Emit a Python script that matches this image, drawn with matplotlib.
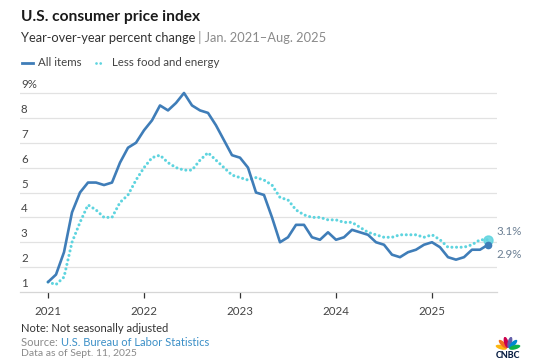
import matplotlib.pyplot as plt
from matplotlib.lines import Line2D
from matplotlib.patches import Ellipse
import numpy as np

plt.rcParams['font.family'] = ['Lato', 'DejaVu Sans']

# monthly year-over-year % change, Jan 2021 - Aug 2025
all_items = [1.4, 1.7, 2.6, 4.2, 5.0, 5.4, 5.4, 5.3, 5.4, 6.2, 6.8, 7.0,
             7.5, 7.9, 8.5, 8.3, 8.6, 9.0, 8.5, 8.3, 8.2, 7.7, 7.1, 6.5,
             6.4, 6.0, 5.0, 4.9, 4.0, 3.0, 3.2, 3.7, 3.7, 3.2, 3.1, 3.4,
             3.1, 3.2, 3.5, 3.4, 3.3, 3.0, 2.9, 2.5, 2.4, 2.6, 2.7, 2.9,
             3.0, 2.8, 2.4, 2.3, 2.4, 2.7, 2.7, 2.9]
core = [1.4, 1.3, 1.6, 3.0, 3.8, 4.5, 4.3, 4.0, 4.0, 4.6, 4.9, 5.5,
        6.0, 6.4, 6.5, 6.2, 6.0, 5.9, 5.9, 6.3, 6.6, 6.3, 6.0, 5.7,
        5.6, 5.5, 5.6, 5.5, 5.3, 4.8, 4.7, 4.3, 4.1, 4.0, 4.0, 3.9,
        3.9, 3.8, 3.8, 3.6, 3.4, 3.3, 3.2, 3.2, 3.3, 3.3, 3.3, 3.2,
        3.3, 3.1, 2.8, 2.8, 2.8, 2.9, 3.1, 3.1]
years = ['2021', '2022', '2023', '2024', '2025']
y_grid = [2, 3, 4, 5, 6, 7, 8, 9]
y_labels = ['1', '2', '3', '4', '5', '6', '7', '8', '9%']

BLUE = '#3f7db8'
CYAN = '#5ed4df'
W, H = 537, 360


def px(x, y):
    return x / W, 1 - y / H


fig = plt.figure(figsize=(W / 100, H / 100), dpi=100)
# axes: left px 20, right px 497, bottom px 292 (y=1), 9 at px 93
ppu = (292 - 93) / 8
top_val = 1 + (292 - 84) / ppu
ax = fig.add_axes([20 / W, 1 - 292 / H, 477 / W, (292 - 84) / H])
ax.set_xlim(-28 / 8, (497 - 48) / 8)
ax.set_ylim(1, top_val)

months = np.arange(len(all_items))
for v in y_grid:
    ax.axhline(v, color='#e2e2e2', lw=0.9, zorder=0)
for i, lab in enumerate(y_labels):
    ax.text(0.002, i + 1 + 0.12, lab, transform=ax.get_yaxis_transform(),
            ha='left', va='bottom', fontsize=8.3, color='#444444')

ax.plot(months[:len(core)], core, color=CYAN, lw=2.2,
        linestyle=(0, (0.01, 1.5)), dash_capstyle='round', zorder=3)
ax.plot(months, all_items, color=BLUE, lw=1.9, solid_joinstyle='round',
        solid_capstyle='round', zorder=4)
ax.plot(months[-1], core[-1], 'o', color=CYAN, ms=6.5, alpha=0.85, zorder=5)
ax.plot(months[-1], all_items[-1], 'o', color=BLUE, ms=4.5, zorder=6)
ax.annotate(f'{core[-1]}%', (months[-1], core[-1]), xytext=(6, 2),
            textcoords='offset points', va='bottom', ha='left',
            fontsize=8.3, color='#6b7f93')
ax.annotate(f'{all_items[-1]}%', (months[-1], all_items[-1]), xytext=(6, -3),
            textcoords='offset points', va='top', ha='left',
            fontsize=8.3, color='#6b7f93')

for s in ['top', 'right', 'left']:
    ax.spines[s].set_visible(False)
ax.spines['bottom'].set_color('#d6d6d6')
ax.spines['bottom'].set_linewidth(0.9)
ax.set_yticks([])
ax.set_xticks(np.arange(len(years)) * 12)
ax.set_xticklabels(years)
ax.tick_params(axis='x', length=4, width=0.9, color='#333333', pad=6,
               labelsize=8.3, labelcolor='#444444')

# header
fig.text(*px(21, 17), 'U.S. consumer price index', fontsize=11.2,
         fontweight='bold', color='#1a1a1a', va='center', ha='left')
t1 = fig.text(*px(21, 38), 'Year-over-year percent change', fontsize=9.3,
              color='#333333', va='center', ha='left')
plt.annotate(' | Jan. 2021\u2013Aug. 2025', xy=(1, 0), xycoords=t1,
             va='bottom', ha='left', fontsize=9.3, color='#8a8a8a')

# legend
ly = 1 - 63 / H
fig.add_artist(Line2D([22 / W, 33 / W], [ly, ly], color=BLUE, lw=2,
                      transform=fig.transFigure))
fig.text(38 / W, ly, 'All items', fontsize=8.3, color='#444444',
         va='center', ha='left')
fig.add_artist(Line2D([96 / W, 101 / W], [ly, ly], color=CYAN, lw=2,
                      linestyle=(0, (0.01, 1.5)), dash_capstyle='round',
                      transform=fig.transFigure))
fig.text(112 / W, ly, 'Less food and energy', fontsize=8.3, color='#444444',
         va='center', ha='left')

# footer
fig.text(*px(21, 329), 'Note: Not seasonally adjusted', fontsize=8,
         color='#333333', va='center', ha='left')
s1 = fig.text(*px(21, 342), 'Source: ', fontsize=8, color='#8a8a8a',
              va='center', ha='left')
plt.annotate('U.S. Bureau of Labor Statistics', xy=(1, 0), xycoords=s1,
             va='bottom', ha='left', fontsize=8, color='#3b8fc7')
fig.text(*px(21, 354), 'Data as of Sept. 11, 2025', fontsize=7.5,
         color='#8a8a8a', va='center', ha='left')

# CNBC peacock logo
lax = fig.add_axes([494 / W, 1 - 351 / H, 28 / W, 14 / H])
lax.set_xlim(-1.1, 1.1)
lax.set_ylim(-0.1, 1.0)
lax.axis('off')
feather_colors = ['#0db14b', '#0089d0', '#6460aa', '#cc004c', '#f37021', '#fcb711']
for k, c in enumerate(feather_colors[::-1]):
    ang = np.deg2rad(165 - k * 30)
    cx, cy = 0.55 * np.cos(ang), 0.05 + 0.55 * np.sin(ang)
    lax.add_patch(Ellipse((cx, cy), 0.9, 0.34, angle=np.rad2deg(ang),
                          color=c, lw=0))
fig.text(*px(508, 355), 'CNBC', fontsize=6.5, fontweight='black',
         color='#0a1f44', va='center', ha='center')

fig.savefig('out.png', dpi=100)
